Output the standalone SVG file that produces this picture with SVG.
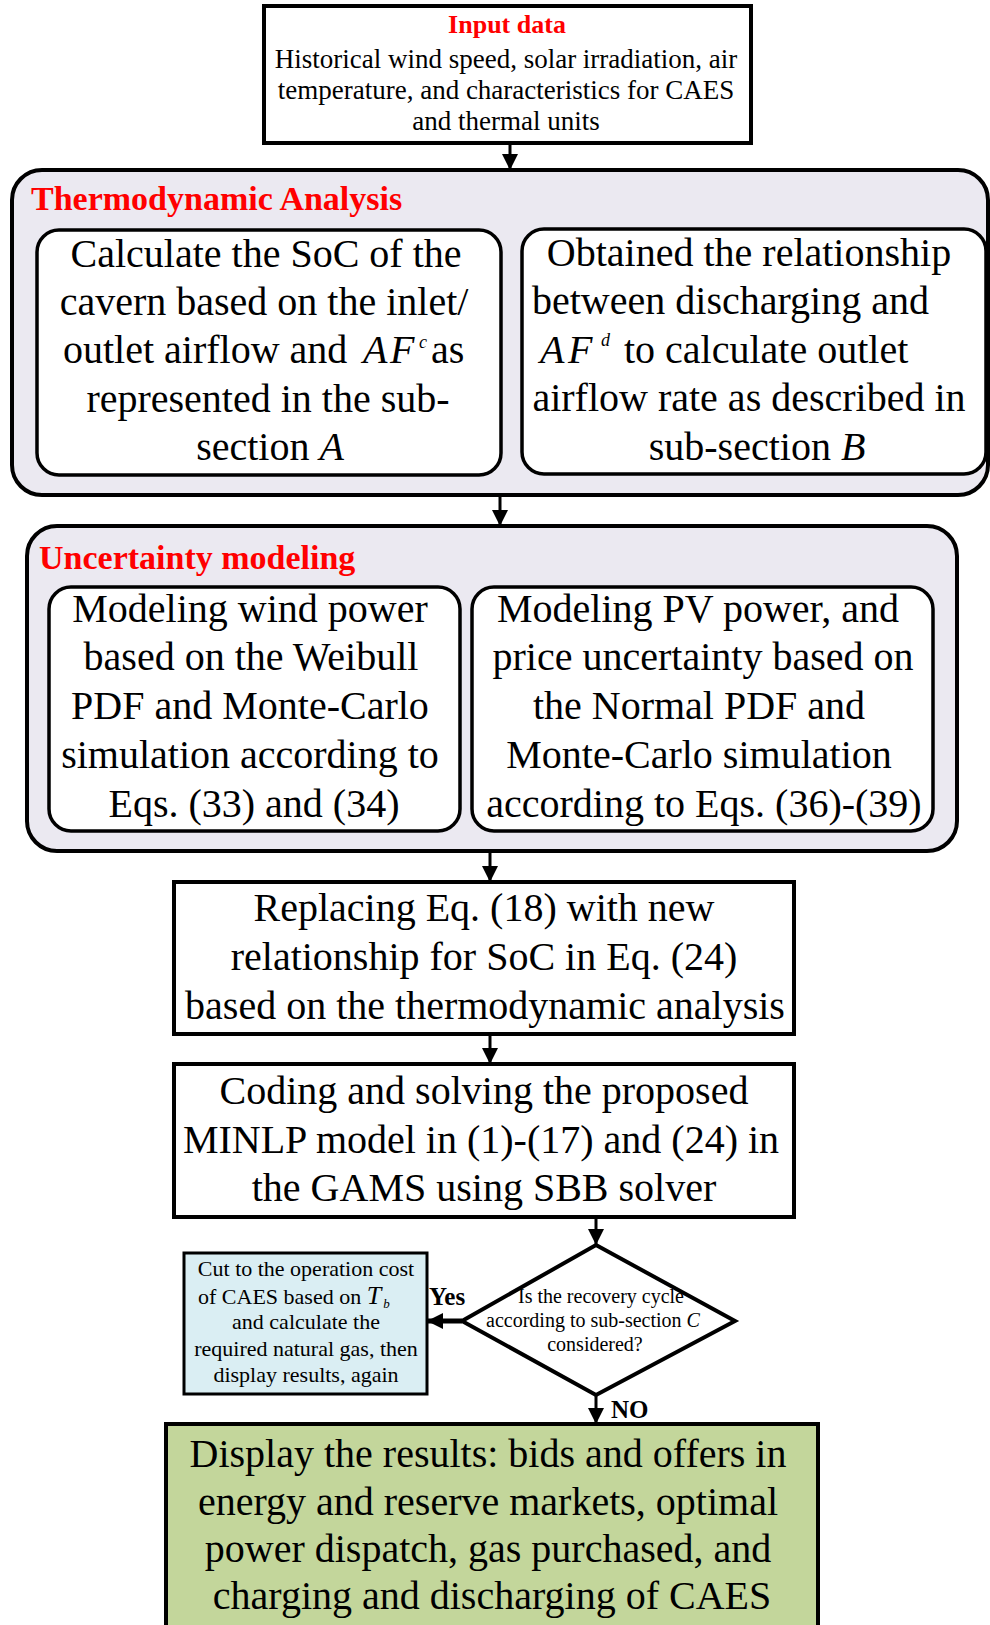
<svg xmlns="http://www.w3.org/2000/svg" width="990" height="1625" viewBox="0 0 990 1625">
<defs>
<style>
text{font-family:"Liberation Serif","Times New Roman",serif;fill:#000}
.c{text-anchor:middle}
.s{text-anchor:start}
.t40{font-size:40px}
.title{font-size:34px;font-weight:bold;fill:#ff0000}
.it{font-style:italic}
.outer{fill:#ebe9f1;stroke:#000;stroke-width:4}
.inner{fill:#fff;stroke:#000;stroke-width:3.5}
.box{fill:#fff;stroke:#000;stroke-width:4}
.conn{stroke:#000;stroke-width:3;fill:none}
.lbl{font-size:25px;font-weight:bold}
</style>
<marker id="ah" markerUnits="userSpaceOnUse" markerWidth="18" markerHeight="18" viewBox="0 0 18 18" refX="16" refY="9" orient="auto">
<path d="M0,1 L16,9 L0,17 Z" fill="#000"/>
</marker>
</defs>
<rect width="990" height="1625" fill="#fff"/>

<g id="input">
<rect class="box" x="264" y="6" width="487" height="137"/>
<text class="c" x="507" y="33" style="font-size:26px;font-weight:bold;fill:#ff0000">Input data</text>
<text class="c" x="506" y="68" font-size="27">Historical wind speed, solar irradiation, air</text>
<text class="c" x="506" y="99" font-size="27">temperature, and characteristics for CAES</text>
<text class="c" x="506" y="130" font-size="27">and thermal units</text>
</g>

<g id="thermodynamic">
<rect class="outer" x="12" y="170" width="976" height="325" rx="30"/>
<text class="s title" x="31" y="210">Thermodynamic Analysis</text>
</g>
<g id="soc">
<rect class="inner" x="37" y="230" width="464" height="245" rx="22"/>
<text class="c t40" x="266" y="267">Calculate the SoC of the</text>
<text class="c t40" x="264" y="315">cavern based on the inlet/</text>
<text class="s t40" x="63" y="363">outlet airflow and <tspan class="it" x="363">A</tspan><tspan class="it" x="390">F</tspan><tspan class="it" x="419" dy="-15" font-size="18">c</tspan><tspan x="431" dy="15">as</tspan></text>
<text class="c t40" x="268" y="412">represented in the sub-</text>
<text class="c t40" x="270" y="460">section <tspan class="it">A</tspan></text>
</g>
<g id="relationship">
<rect class="inner" x="522" y="229" width="464" height="245" rx="22"/>
<text class="c t40" x="749" y="266">Obtained the relationship</text>
<text class="s t40" x="532" y="314">between discharging and</text>
<text class="s t40" x="540" y="363"><tspan class="it">A</tspan><tspan class="it" x="568">F</tspan><tspan class="it" x="601" dy="-17" font-size="18">d</tspan><tspan x="624" dy="17">to calculate outlet</tspan></text>
<text class="c t40" x="749" y="411">airflow rate as described in</text>
<text class="c t40" x="757" y="460">sub-section <tspan class="it">B</tspan></text>
</g>

<g id="uncertainty">
<rect class="outer" x="27" y="526" width="930" height="325" rx="30"/>
<text class="s title" x="39" y="569">Uncertainty modeling</text>
</g>
<g id="wind">
<rect class="inner" x="49" y="587" width="411" height="244" rx="22"/>
<text class="c t40" x="250" y="622">Modeling wind power</text>
<text class="c t40" x="251" y="670">based on the Weibull</text>
<text class="c t40" x="250" y="719">PDF and Monte-Carlo</text>
<text class="c t40" x="250" y="768">simulation according to</text>
<text class="c t40" x="254" y="817">Eqs. (33) and (34)</text>
</g>
<g id="pv">
<rect class="inner" x="472" y="587" width="461" height="244" rx="22"/>
<text class="c t40" x="698" y="622">Modeling PV power, and</text>
<text class="c t40" x="703" y="670">price uncertainty based on</text>
<text class="c t40" x="699" y="719">the Normal PDF and</text>
<text class="c t40" x="699" y="768">Monte-Carlo simulation</text>
<text class="c t40" x="704" y="817">according to Eqs. (36)-(39)</text>
</g>

<g id="replacing">
<rect class="box" x="174" y="882" width="620" height="152"/>
<text class="c t40" x="484" y="921">Replacing Eq. (18) with new</text>
<text class="c t40" x="484" y="970">relationship for SoC in Eq. (24)</text>
<text class="c t40" x="485" y="1019">based on the thermodynamic analysis</text>
</g>

<g id="coding">
<rect class="box" x="174" y="1064" width="620" height="153"/>
<text class="c t40" x="484" y="1104">Coding and solving the proposed</text>
<text class="c t40" x="481" y="1153">MINLP model in (1)-(17) and (24) in</text>
<text class="c t40" x="484" y="1201">the GAMS using SBB solver</text>
</g>

<g id="decision">
<polygon points="596,1245 735,1321 596,1395 462,1321" fill="#fff" stroke="#000" stroke-width="4"/>
<text class="c" x="601" y="1303" font-size="20">Is the recovery cycle</text>
<text class="c" x="593" y="1327" font-size="20">according to sub-section <tspan class="it">C</tspan></text>
<text class="c" x="595" y="1351" font-size="20">considered?</text>
</g>

<g id="recovery">
<rect x="184" y="1253" width="243" height="141" fill="#daeef3" stroke="#000" stroke-width="3"/>
<text class="c" x="306" y="1276" font-size="22">Cut to the operation cost</text>
<text class="s" x="198" y="1304" font-size="22">of CAES based on <tspan class="it" font-size="26">T</tspan><tspan class="it" font-size="13" dx="2" dy="4">b</tspan></text>
<text class="c" x="306" y="1329" font-size="22">and calculate the</text>
<text class="c" x="306" y="1356" font-size="22">required natural gas, then</text>
<text class="c" x="306" y="1382" font-size="22">display results, again</text>
</g>

<g id="results">
<rect x="166" y="1424" width="652" height="230" fill="#c3d69b" stroke="#000" stroke-width="4"/>
<text class="c t40" x="488" y="1467">Display the results: bids and offers in</text>
<text class="c t40" x="488" y="1515">energy and reserve markets, optimal</text>
<text class="c t40" x="488" y="1562">power dispatch, gas purchased, and</text>
<text class="c t40" x="492" y="1609">charging and discharging of CAES</text>
</g>

<g id="connectors">
<line class="conn" x1="510" y1="143" x2="510" y2="170" marker-end="url(#ah)"/>
<line class="conn" x1="500" y1="495" x2="500" y2="526" marker-end="url(#ah)"/>
<line class="conn" x1="490" y1="851" x2="490" y2="882" marker-end="url(#ah)"/>
<line class="conn" x1="490" y1="1034" x2="490" y2="1064" marker-end="url(#ah)"/>
<line class="conn" x1="596" y1="1217" x2="596" y2="1245" marker-end="url(#ah)"/>
<line class="conn" x1="462" y1="1321" x2="427" y2="1321" marker-end="url(#ah)" style="stroke-width:5"/>
<line class="conn" x1="596" y1="1395" x2="596" y2="1424" marker-end="url(#ah)"/>
<text class="s lbl" x="429" y="1305">Yes</text>
<text class="s lbl" x="611" y="1418">NO</text>
</g>
</svg>
